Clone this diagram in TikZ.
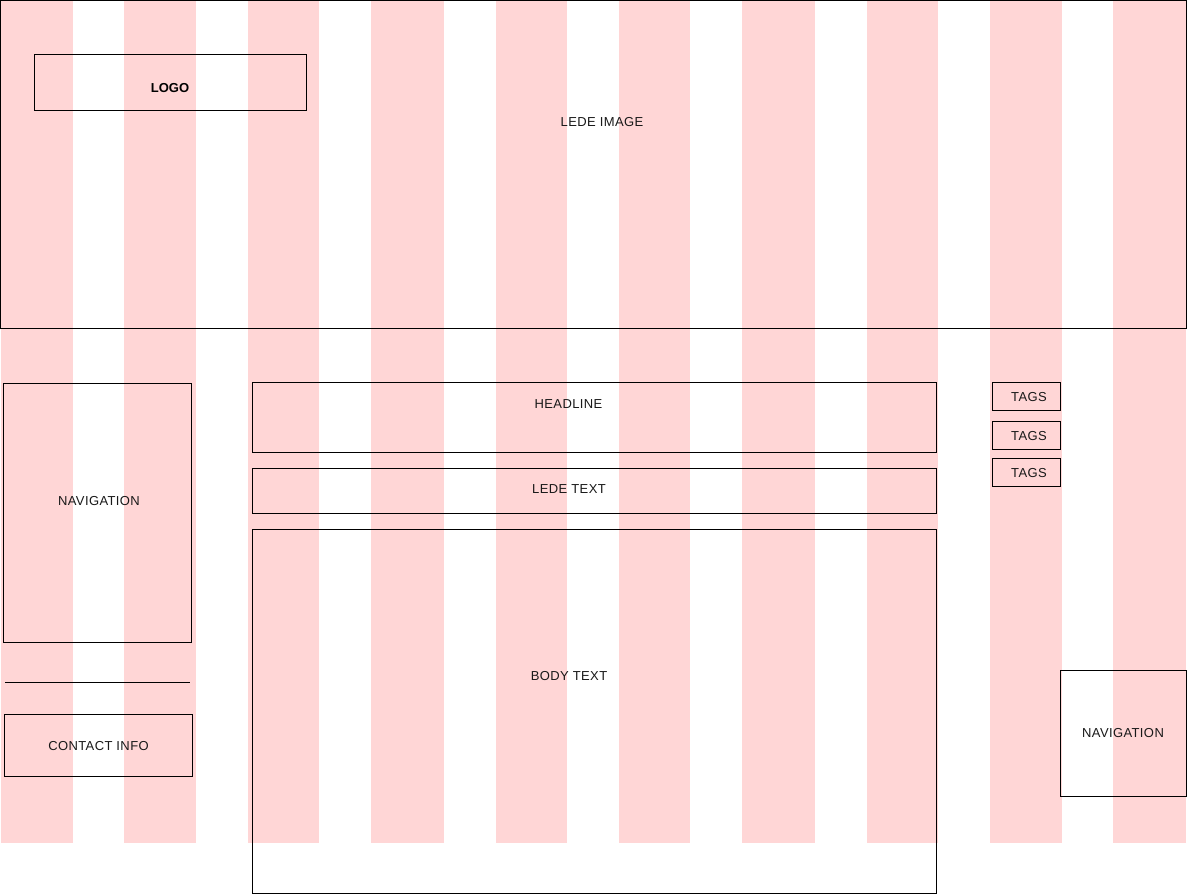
\documentclass[tikz,border=0pt]{standalone}
\usepackage{fontspec}
\setmainfont{Liberation Sans}
\newfontfamily\spacedsans[LetterSpace=3]{Liberation Sans}
\definecolor{stripe}{RGB}{255,214,214}
\begin{document}
\begin{tikzpicture}[x=1pt,y=-1pt,
  box/.style={draw=black,line width=0.9pt},
  lbl/.style={font=\spacedsans\fontsize{13}{15}\selectfont,text=black!90,inner sep=0pt},
  boldlbl/.style={font=\fontsize{13}{15}\selectfont\bfseries,text=black,inner sep=0pt}]
\useasboundingbox (0,0) rectangle (1187,894);
\fill[white] (0,0) rectangle (1187,894);
% grid stripes
\foreach \a/\b in {1/73,124/196,248/319,371/444,496/567,619/690,742/815,867/938,990/1062,1113/1186}
  \fill[stripe] (\a,0) rectangle (\b,843);
% lede image
\draw[box] (0.5,0.5) coordinate (li1) rectangle (1186.5,328) coordinate (li2);
\node[lbl] (lede) at (602,122) {LEDE IMAGE};
% logo
\draw[box] (34,54) rectangle (306,110);
\node[boldlbl] (logo) at (170,88) {LOGO};
% left navigation
\draw[box] (3,383) rectangle (191,642);
\node[lbl] (navl) at (99,501) {NAVIGATION};
% separator
\coordinate (s1) at (5,682);
\coordinate (s2) at (190,682);
\draw[line width=0.9pt] (s1) -- (s2);
% contact info
\draw[box] (4,714) rectangle (192,776);
\node[lbl] (contact) at (98.5,746) {CONTACT INFO};
% headline
\draw[box] (252,382) rectangle (936,452);
\node[lbl] (head) at (568.5,404) {HEADLINE};
% lede text
\draw[box] (252,468) rectangle (936,513);
\node[lbl] (ledet) at (569,489) {LEDE TEXT};
% body text
\draw[box] (252,529) rectangle (936,893);
\node[lbl] (body) at (569,676) {BODY TEXT};
% tags
\draw[box] (992,382) rectangle (1060,410);
\node[lbl] (t1) at (1029,397) {TAGS};
\draw[box] (992,421) rectangle (1060,449);
\node[lbl] (t2) at (1029,436) {TAGS};
\draw[box] (992,458) rectangle (1060,486);
\node[lbl] (t3) at (1029,473) {TAGS};
% right navigation
\draw[box] (1060,670) rectangle (1186,796);
\node[lbl] (navr) at (1123,733) {NAVIGATION};
\end{tikzpicture}
\end{document}
